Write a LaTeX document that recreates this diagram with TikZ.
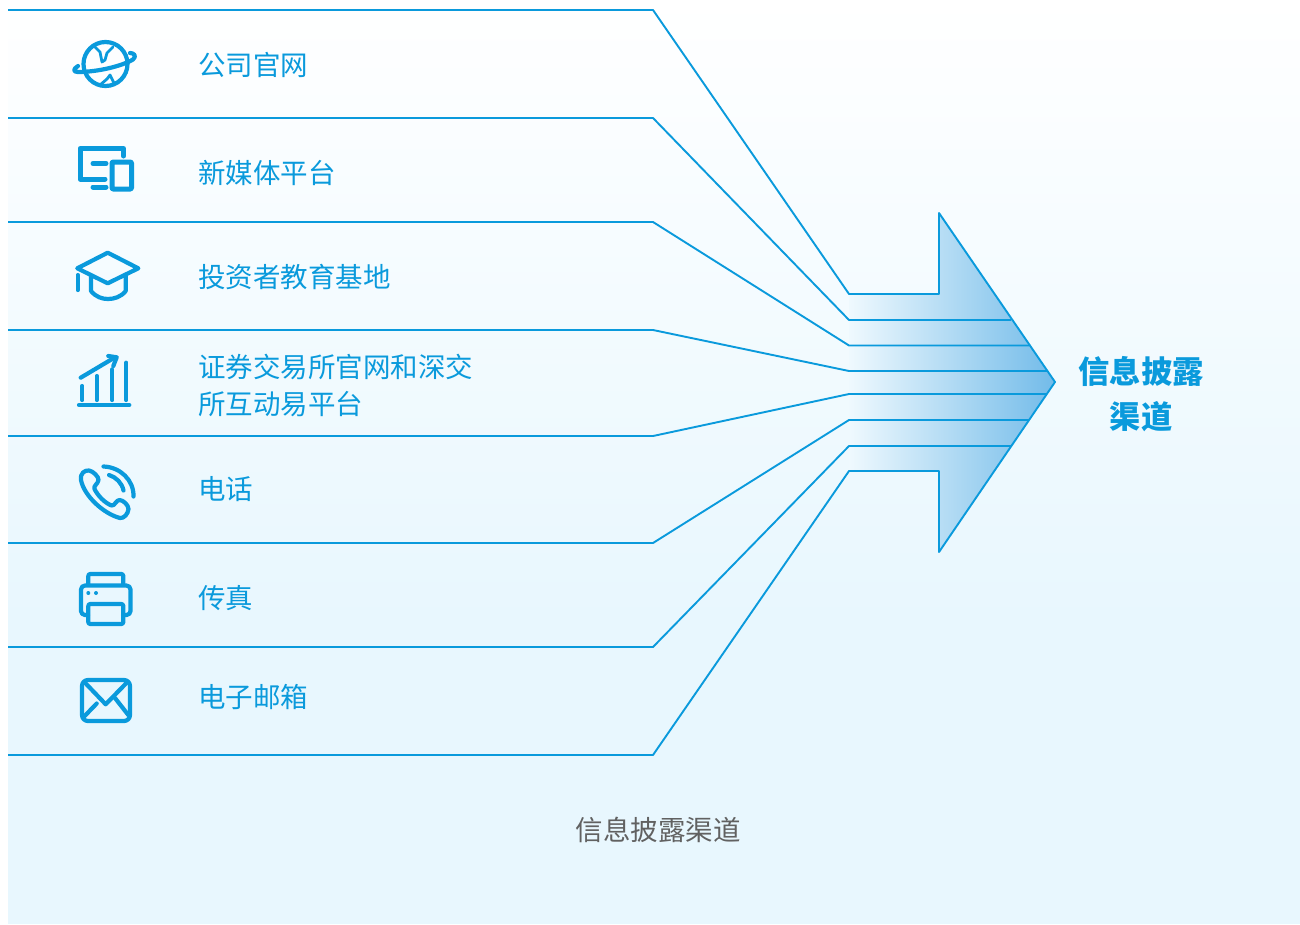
\documentclass[tikz,border=0pt]{standalone}
\usepackage{fontspec}
\setmainfont{Noto Sans CJK SC}
\definecolor{channelblue}{HTML}{0A9ADC}
\definecolor{skyblue}{HTML}{E8F7FE}
\definecolor{fadeleft}{HTML}{EFF9FE}
\definecolor{fademid}{HTML}{B3D8F1}
\definecolor{faderight}{HTML}{72BBE9}
\tikzset{
    channel/.style={draw=channelblue, line width=1.9pt, line join=round},
    icon/.style={draw=channelblue, line width=4.2pt, line cap=round, line join=round},
    label/.style={anchor=west, inner sep=0pt, align=left, text=channelblue, font=\fontsize{27.5}{37}\selectfont},
    headline/.style={inner sep=0pt, align=center, text=channelblue, font=\fontsize{31.3}{45}\selectfont\bfseries},
    caption/.style={inner sep=0pt, text=black!62, font=\fontsize{27.5}{37}\selectfont}
}
\begin{document}
\begin{tikzpicture}[x=1pt, y=-1pt]

    \useasboundingbox (0,0) rectangle (1300,924);
    \shade[top color=white, bottom color=skyblue] (8,0) rectangle (1300,620);
    \fill[skyblue] (8,620) rectangle (1300,924);

    \coordinate (A1) at (8,10);
    \coordinate (A2) at (653,10);
    \coordinate (A3) at (849,294);
    \coordinate (A4) at (939,294);
    \coordinate (A5) at (939,213);
    \coordinate (Tip) at (1055,382);
    \coordinate (B1) at (8,118);
    \coordinate (B2) at (653,118);
    \coordinate (B3) at (849,320);
    \coordinate (B4) at (1011,320);
    \coordinate (C1) at (8,222);
    \coordinate (C2) at (653,222);
    \coordinate (C3) at (849,345.5);
    \coordinate (C4) at (1029,345.5);
    \coordinate (D1) at (8,330);
    \coordinate (D2) at (653,330);
    \coordinate (D3) at (849,371);
    \coordinate (D4) at (1047,371);
    \coordinate (E1) at (8,436);
    \coordinate (E2) at (653,436);
    \coordinate (E3) at (849,394);
    \coordinate (E4) at (1047,394);
    \coordinate (F1) at (8,543);
    \coordinate (F2) at (653,543);
    \coordinate (F3) at (849,420);
    \coordinate (F4) at (1029,420);
    \coordinate (G1) at (8,647);
    \coordinate (G2) at (653,647);
    \coordinate (G3) at (849,446);
    \coordinate (G4) at (1011,446);
    \coordinate (H1) at (8,755);
    \coordinate (H2) at (653,755);
    \coordinate (H3) at (849,471);
    \coordinate (H4) at (939,471);
    \coordinate (H5) at (939,552);

    \shade[left color=fadeleft, middle color=fademid, right color=faderight]
        (A3) -- (A4) -- (A5) -- (Tip) -- (H5) -- (H4) -- (H3) -- cycle;

    \draw[channel] (A1) -- (A2) -- (A3) -- (A4) -- (A5) -- (Tip) -- (H5) -- (H4) -- (H3) -- (H2) -- (H1);
    \draw[channel] (B1) -- (B2) -- (B3) -- (B4);
    \draw[channel] (C1) -- (C2) -- (C3) -- (C4);
    \draw[channel] (D1) -- (D2) -- (D3) -- (D4);
    \draw[channel] (E1) -- (E2) -- (E3) -- (E4);
    \draw[channel] (F1) -- (F2) -- (F3) -- (F4);
    \draw[channel] (G1) -- (G2) -- (G3) -- (G4);

    \node[label] (Web) at (198,65) {公司官网};
    \node[label] (Media) at (198,173) {新媒体平台};
    \node[label] (Base) at (198,277) {投资者教育基地};
    \node[label] (Exchange) at (198,385.5) {证券交易所官网和深交\\所互动易平台};
    \node[label] (Phone) at (198,489) {电话};
    \node[label] (Fax) at (198,598.5) {传真};
    \node[label] (Mail) at (198,697) {电子邮箱};
    \node[headline] (Channel) at (1141,394.5) {信息披露\\渠道};
    \node[caption] (Title) at (658,830) {信息披露渠道};

    \draw[icon] (105.5,64) circle (22);
    \draw[icon, line width=2.8pt] (95,47) -- (100,52) -- (102,62) -- (105,60) -- (107,53) -- (113,47);
    \draw[icon, line width=2.8pt] (100,85) -- (107,79) -- (110,75) -- (114.5,84);
    \draw[icon] (78,66) .. controls (73,69) and (73,72) .. (78,72) .. controls (98,72) and (122,66) .. (133,59.5) .. controls (137,56) and (134,53) .. (130,53);

    \draw[icon, line width=5pt] (123.5,156) -- (123.5,148.5) -- (80,148.5) -- (80,179) -- (105,179);
    \draw[icon, line width=5pt] (93,163.5) -- (106,163.5);
    \draw[icon, line width=5pt] (93,187) -- (106,187);
    \draw[icon, line width=5pt, rounded corners=1pt] (112,162) rectangle (131.5,189);

    \draw[icon] (107.7,252.7) -- (138.3,268.3) -- (107.7,283.3) -- (77.3,268.3) -- cycle;
    \draw[icon] (91,276) -- (91,291) .. controls (96,297) and (102,299) .. (108,299) .. controls (114,299) and (121,297) .. (125.7,291) -- (125.7,276);
    \draw[icon] (77.7,275) -- (77.7,290);

    \draw[icon] (79,405) -- (129.3,405);
    \draw[icon] (82.3,386) -- (82.3,400);
    \draw[icon] (96.7,376) -- (96.7,400);
    \draw[icon] (112.3,369.3) -- (112.3,400);
    \draw[icon] (126.3,362.7) -- (126.3,400);
    \draw[icon] (80.7,377.7) -- (115,357.3);
    \draw[icon] (108.3,356) -- (116.7,357.3) -- (113.3,366);

    \draw[icon] (81,480) .. controls (80,473) and (85,470) .. (89,470.5) .. controls (93,471) and (99,477) .. (98.5,480) .. controls (98,484) and (93,486) .. (94.5,489) .. controls (98,496) and (105,503) .. (111.5,505.5) .. controls (115,506) and (116,500) .. (119.5,500) .. controls (123,500) and (128.5,505) .. (128.5,509) .. controls (128,514) and (124,518.5) .. (120,518) .. controls (104,514) and (84,496) .. (81,480) -- cycle;
    \draw[icon] (103.5,466.5) .. controls (120,467) and (134,480) .. (133.5,496.5);
    \draw[icon] (109,475) .. controls (116,477) and (122,483) .. (123.5,490.5);

    \draw[icon, rounded corners=2pt] (88.3,584) -- (88.3,574) -- (123.3,574) -- (123.3,584);
    \draw[icon, rounded corners=4pt] (88,615) -- (81,615) -- (81,585.5) -- (130.5,585.5) -- (130.5,615) -- (123,615);
    \draw[icon, rounded corners=2pt] (88.3,604) rectangle (123.3,624);
    \fill[channelblue] (88.3,593) circle (2);
    \fill[channelblue] (96,593) circle (2);

    \draw[icon, rounded corners=6pt] (82,680) rectangle (130,721);
    \draw[icon] (85,682.7) -- (105.7,704.3) -- (126.7,682.7);
    \draw[icon] (84,716.7) -- (96.7,703.5);
    \draw[icon] (115,698) -- (128.3,715);

\end{tikzpicture}
\end{document}
